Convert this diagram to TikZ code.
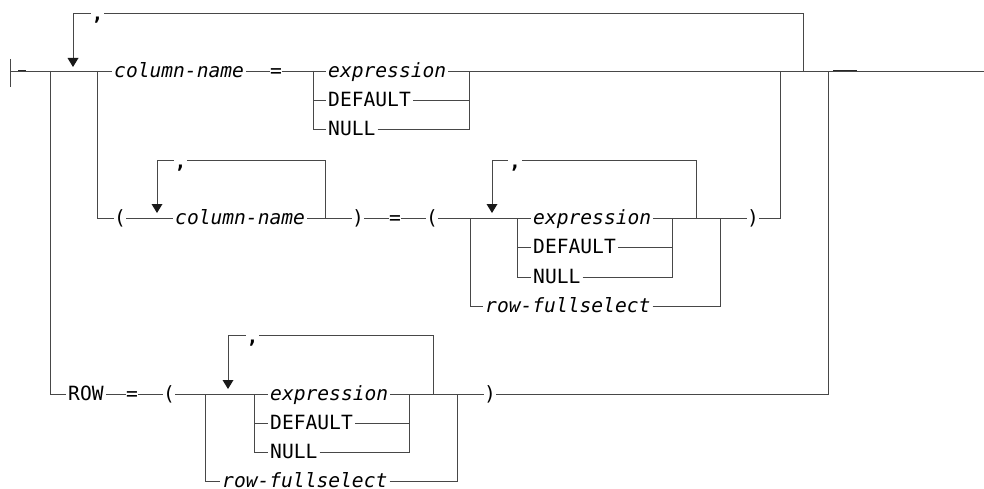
\documentclass[tikz,border=0pt]{standalone}
\usepackage{fontspec}
\setmonofont{DejaVu Sans Mono}
\begin{document}
\begin{tikzpicture}[x=1pt,y=-1pt,
  ln/.style={draw=black!72, line width=0.9pt},
  darkseg/.style={draw=black!85, line width=1.5pt},
  tipfill/.style={fill=black!90},
  kw/.style={font=\fontsize{19.6}{20}\selectfont\ttfamily, text=black, inner xsep=2pt, inner ysep=0pt, text height=13pt, text depth=0pt, anchor=west},
  var/.style={kw, font=\fontsize{19.6}{20}\selectfont\ttfamily\itshape},
  sym/.style={kw, anchor=center, inner xsep=0pt},
  commark/.style={font=\fontsize{19.6}{20}\selectfont\ttfamily\bfseries, text=black, fill=white, inner xsep=1pt, inner ysep=0pt, text height=9pt, text depth=0pt, anchor=base}
]
\useasboundingbox (0,0) rectangle (984,489);

% ---------- junction coordinates ----------
\coordinate (s) at (10,71);
\coordinate (jrow) at (50,71);
\coordinate (jpar) at (97,71);
\coordinate (c1l) at (313,71);
\coordinate (c1r) at (469,71);
\coordinate (j2r) at (780,71);
\coordinate (l0r) at (803,71);
\coordinate (j3r) at (828,71);
\coordinate (e) at (984,71);

% ---------- start / end markers ----------
\draw[ln] (10,59) -- (10,87);
\draw[darkseg] (18,71) -- (26,71);
\draw[darkseg] (833,71) -- (857,71);

% ---------- row 1 ----------
\node[var] (cn1) at (112,71) {column-name};
\node[sym] (eq1) at (276,71) {=};
\node[var] (ex1) at (326,71) {expression};
\node[kw]  (df1) at (326,100) {DEFAULT};
\node[kw]  (nl1) at (326,129) {NULL};

\draw[ln] (s) -- (cn1.west);
\draw[ln] (cn1.east) -- (eq1.west);
\draw[ln] (eq1.east) -- (ex1.west);
\draw[ln] (ex1.east) -- (e);
\draw[ln] (c1l) |- (df1.west);
\draw[ln] (c1l) |- (nl1.west);
\draw[ln] (df1.east) -| (c1r);
\draw[ln] (nl1.east) -| (c1r);

% outer repeat loop
\coordinate (t0) at (73,67);
\draw[ln] (l0r) |- (73,13) -- (73,60);
\fill[tipfill] (t0) -- ++(-5.5,-9) -- ++(11,0) -- cycle;
\node[commark] (cm0) at (97.5,21) {,};

% ---------- row 2 ----------
\node[sym] (lp2) at (120,218) {(};
\node[var] (cn2) at (173,218) {column-name};
\node[sym] (rp2) at (358,218) {)};
\node[sym] (eq2) at (395,218) {=};
\node[sym] (lp3) at (432,218) {(};
\node[var] (ex2) at (531,218) {expression};
\node[kw]  (df2) at (531,247) {DEFAULT};
\node[kw]  (nl2) at (531,277) {NULL};
\node[var] (rf2) at (483,306) {row-fullselect};
\node[sym] (rp3) at (753,218) {)};

\coordinate (c2l) at (470,218);
\coordinate (c2r) at (720,218);
\coordinate (c3l) at (517,218);
\coordinate (c3r) at (672,218);

\draw[ln] (jpar) |- (lp2.west);
\draw[ln] (lp2.east) -- (cn2.west);
\draw[ln] (cn2.east) -- (rp2.west);
\draw[ln] (rp2.east) -- (eq2.west);
\draw[ln] (eq2.east) -- (lp3.west);
\draw[ln] (lp3.east) -- (ex2.west);
\draw[ln] (ex2.east) -- (rp3.west);
\draw[ln] (rp3.east) -| (j2r);
\draw[ln] (c2l) |- (rf2.west);
\draw[ln] (rf2.east) -| (c2r);
\draw[ln] (c3l) |- (df2.west);
\draw[ln] (c3l) |- (nl2.west);
\draw[ln] (df2.east) -| (c3r);
\draw[ln] (nl2.east) -| (c3r);

\coordinate (t1) at (157,213);
\draw[ln] (325,218) |- (157,160) -- (157,206);
\fill[tipfill] (t1) -- ++(-5.5,-9) -- ++(11,0) -- cycle;
\node[commark] (cm1) at (180.5,168) {,};
\coordinate (t2) at (492,213);
\draw[ln] (696,218) |- (492,160) -- (492,206);
\fill[tipfill] (t2) -- ++(-5.5,-9) -- ++(11,0) -- cycle;
\node[commark] (cm2) at (515,168) {,};

% ---------- row 3 ----------
\node[kw]  (row) at (66,394) {ROW};
\node[sym] (eq3) at (132,394) {=};
\node[sym] (lp4) at (169,394) {(};
\node[var] (ex3) at (268,394) {expression};
\node[kw]  (df3) at (268,423) {DEFAULT};
\node[kw]  (nl3) at (268,452) {NULL};
\node[var] (rf3) at (220,481) {row-fullselect};
\node[sym] (rp4) at (490,394) {)};

\coordinate (c4l) at (205,394);
\coordinate (c4r) at (457,394);
\coordinate (c5l) at (254,394);
\coordinate (c5r) at (409,394);

\draw[ln] (jrow) |- (row.west);
\draw[ln] (row.east) -- (eq3.west);
\draw[ln] (eq3.east) -- (lp4.west);
\draw[ln] (lp4.east) -- (ex3.west);
\draw[ln] (ex3.east) -- (rp4.west);
\draw[ln] (rp4.east) -| (j3r);
\draw[ln] (c4l) |- (rf3.west);
\draw[ln] (rf3.east) -| (c4r);
\draw[ln] (c5l) |- (df3.west);
\draw[ln] (c5l) |- (nl3.west);
\draw[ln] (df3.east) -| (c5r);
\draw[ln] (nl3.east) -| (c5r);

\coordinate (t3) at (228,389);
\draw[ln] (433,394) |- (228,335) -- (228,382);
\fill[tipfill] (t3) -- ++(-5.5,-9) -- ++(11,0) -- cycle;
\node[commark] (cm3) at (252.5,343) {,};
\end{tikzpicture}
\end{document}
